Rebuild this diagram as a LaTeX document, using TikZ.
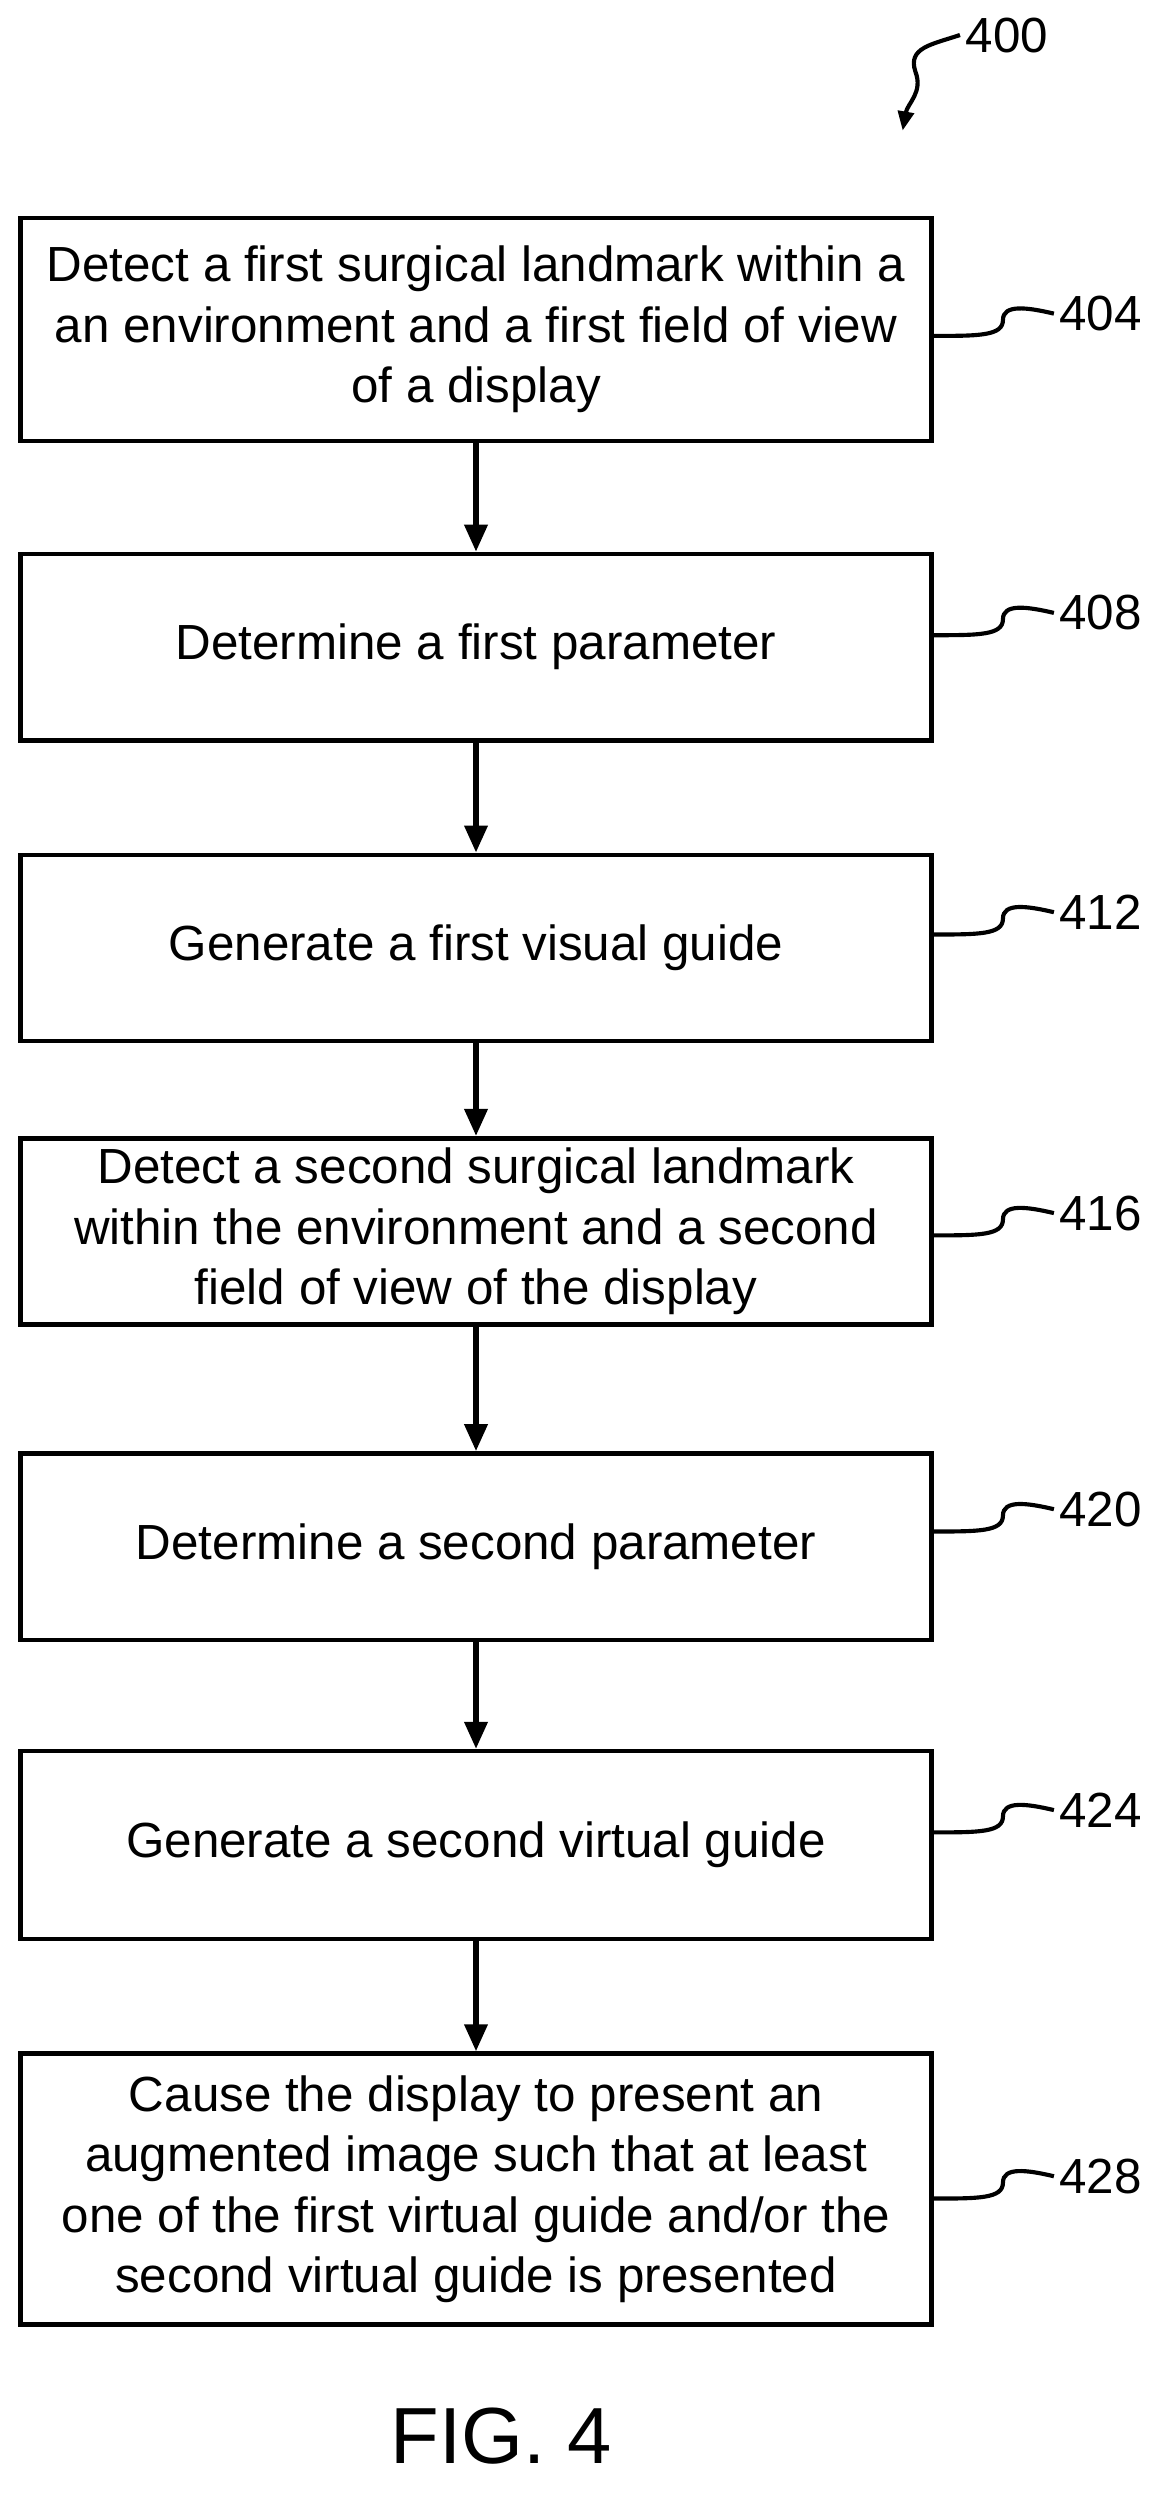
\documentclass[tikz,border=0pt]{standalone}
\usepackage{fontspec}
\setmainfont{Liberation Sans}
\usetikzlibrary{arrows.meta}
\begin{document}
\begin{tikzpicture}[x=1pt,y=-1pt,>={Triangle[length=17pt,width=14pt]},
    block/.style={draw,line width=2.8pt,minimum width=572pt,align=center,font=\fontsize{31}{38}\selectfont,inner sep=0pt},
    flow/.style={->,line width=3.6pt},
    lead/.style={line width=2.6pt},
    num/.style={font=\fontsize{31}{34}\selectfont,anchor=west}]
    \useasboundingbox (0,0) rectangle (735,1571);
    \node[block,minimum height=140pt] (s404) at (299,207) {Detect a first surgical landmark within a\\an environment and a first field of view\\of a display};
    \node[block,minimum height=117pt] (s408) at (299,406.5) {Determine a first parameter};
    \node[block,minimum height=117pt] (s412) at (299,595.5) {Generate a first visual guide};
    \node[block,minimum height=117pt] (s416) at (299,773.5) {Detect a second surgical landmark\\within the environment and a second\\field of view of the display};
    \node[block,minimum height=117pt] (s420) at (299,971.5) {Determine a second parameter};
    \node[block,minimum height=118pt] (s424) at (299,1159) {Generate a second virtual guide};
    \node[block,minimum height=170pt] (s428) at (299,1375) {Cause the display to present an\\augmented image such that at least\\one of the first virtual guide and/or the\\second virtual guide is presented};
    \foreach \a/\b in {s404/s408,s408/s412,s412/s416,s416/s420,s420/s424,s424/s428}
        \draw[flow] (\a.south) -- (\b.north);
    % reference numerals
    \foreach \n/\y in {404/197,408/385,412/573,416/762,420/948,424/1137,428/1367} {
        \node[num] (n\n) at (662,\y) {\n};
        \draw[lead] (s\n.east |- 0,\y+14) .. controls (615,\y+14) and (630,\y+14) .. (630,\y+4)
            .. controls (630,\y-6) and (645,\y-4) .. (n\n.west);
    }
    \node[num] (n400) at (603,22) {400};
    \coordinate (t400) at (567,82);
    \draw[lead,->,>={Triangle[length=12pt,width=10pt]}] (n400.west) .. controls (585,28) and (570,30) .. (575,45)
        .. controls (580,58) and (570,65) .. (t400);
    \node[font=\fontsize{50}{50}\selectfont] (fig) at (315,1530) {FIG. 4};
\end{tikzpicture}
\end{document}
